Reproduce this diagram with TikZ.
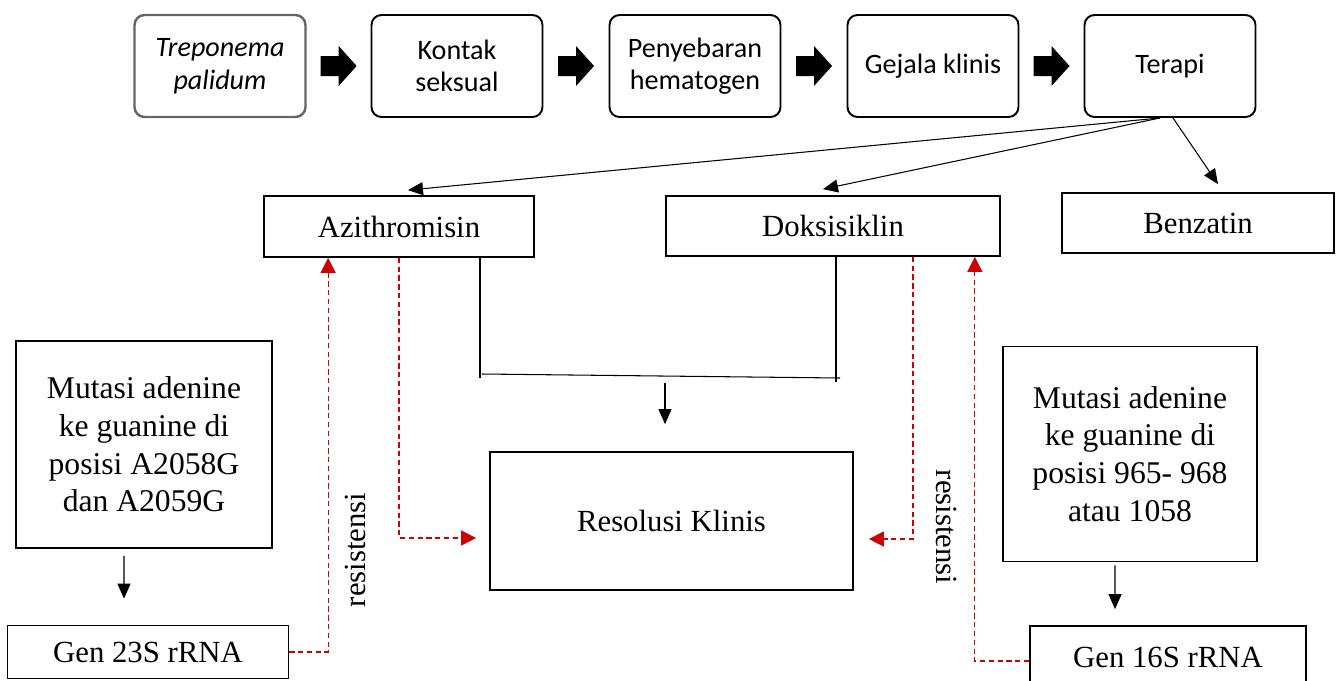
\documentclass[tikz,border=0pt]{standalone}
\usepackage{fontspec}
\setmainfont{Liberation Serif}
\newfontfamily\calibrifont{Carlito}
\usepackage{tikz}
\usetikzlibrary{calc}
\usetikzlibrary{arrows.meta}
\colorlet{resred}{red!80!black}

\begin{document}
\begin{tikzpicture}[
x=0.02cm, y=-0.02cm,
TopBox/.style={draw=black, line width=1.1pt, rounded corners=0.2cm, minimum width=3.42cm, minimum height=2.04cm, align=center, font=\calibrifont\fontsize{16}{18.5}\selectfont},
PlainBox/.style={draw=black, line width=1pt, align=center, inner sep=0pt, font=\fontsize{17.5}{21}\selectfont},
MutBox/.style={PlainBox, font=\fontsize{18}{21.5}\selectfont},
ThinLine/.style={draw=black, line width=0.6pt},
ThinArrow/.style={ThinLine, -{Triangle[length=3mm, width=2.6mm]}},
RedDash/.style={draw=resred, line width=0.7pt, dash pattern=on 3pt off 2pt, -{Triangle[length=3mm, width=3mm]}},
RotLabel/.style={font=\fontsize{17.5}{21}\selectfont, inner sep=0pt}
]

\useasboundingbox (0,0) rectangle (1339,680);
\clip (0,0) rectangle (1339,680);

% top row
\node[TopBox, draw=black!60, line width=1.4pt] (tp) at (220,66) {\itshape Treponema\\\itshape palidum};
\node[TopBox] (ks) at (457,66) {Kontak\\seksual};
\node[TopBox] (ph) at (695,66) {Penyebaran\\hematogen};
\node[TopBox] (gk) at (933,66) {Gejala klinis};
\node[TopBox] (ter) at (1170,66) {Terapi};

\foreach \a/\b in {tp/ks, ks/ph, ph/gk, gk/ter}
  \fill ($(\a.east)!0.5!(\b.west)$) ++(-18,-10) -- ++(18,0) -- ++(0,-10) -- ++(18,20)
        -- ++(-18,20) -- ++(0,-10) -- ++(-18,0) -- cycle;

% drugs
\node[PlainBox, minimum width=5.4cm, minimum height=1.22cm] (azi) at (399,226.5) {Azithromisin};
\node[PlainBox, minimum width=6.68cm, minimum height=1.2cm] (dok) at (833,226) {Doksisiklin};
\node[PlainBox, minimum width=5.44cm, minimum height=1.2cm] (ben) at (1198,223) {Benzatin};

\draw[ThinArrow] ([xshift=-0.2cm]ter.south) -- ([xshift=0.18cm, yshift=0.1cm]azi.north);
\draw[ThinArrow] ([xshift=-0.2cm]ter.south) -- ([xshift=-0.2cm, yshift=0.12cm]dok.north);
\draw[ThinArrow] ([xshift=0.06cm]ter.south) -- ([xshift=0.4cm, yshift=0.16cm]ben.north);

% result
\node[PlainBox, minimum width=7.26cm, minimum height=2.76cm] (res) at (671.5,521) {Resolusi Klinis};

\coordinate (jl) at (480,378);
\coordinate (jr) at (836,382);
\coordinate (jm) at (665,383);
\draw[ThinLine] (azi.south -| jl) -- (jl);
\draw[ThinLine] (dok.south -| jr) -- (jr);
\draw[ThinLine] ([shift={(2,-4)}]jl) -- ([shift={(4,-4)}]jr);
\draw[ThinArrow, shorten >=0.54cm] (jm) -- (jm |- res.north);

% mutations
\node[MutBox, minimum width=5.12cm, minimum height=4.14cm] (mutL) at (144,444.5)
  {Mutasi adenine\\ke guanine di\\posisi A2058G\\dan A2059G};
\node[MutBox, minimum width=5.08cm, minimum height=4.3cm] (mutR) at (1130,454)
  {Mutasi adenine\\ke guanine di\\posisi 965- 968\\atau 1058};

\node[PlainBox, minimum width=5.62cm, minimum height=1.06cm] (g23) at (148,652) {Gen 23S rRNA};
\node[PlainBox, minimum width=5.52cm, minimum height=1.24cm] (g16) at (1168,657) {Gen 16S rRNA};

\draw[ThinArrow, shorten <=0.14cm, shorten >=0.52cm] ([xshift=-0.4cm]mutL.south) -- ([xshift=-0.48cm]g23.north);
\draw[ThinArrow, shorten <=0.06cm, shorten >=0.32cm] ([xshift=-0.3cm]mutR.south) -- ([xshift=-1.06cm]g16.north);

% resistance paths
\draw[RedDash] (azi.south) |- ($(res.west)+(-13,17)$);
\draw[RedDash] ($(dok.south)+(80,0)$) |- ($(res.east)+(15,18)$);
\draw[RedDash] (g23.east) -| ($(azi.south west)+(65,0)$);
\draw[RedDash] ([yshift=-0.08cm]g16.west) -| ($(dok.south east)+(-26,0)$);

\node[RotLabel, rotate=90] (rl) at (355,550) {resistensi};
\node[RotLabel, rotate=-90] (rr) at (947,527) {resistensi};

\end{tikzpicture}
\end{document}
